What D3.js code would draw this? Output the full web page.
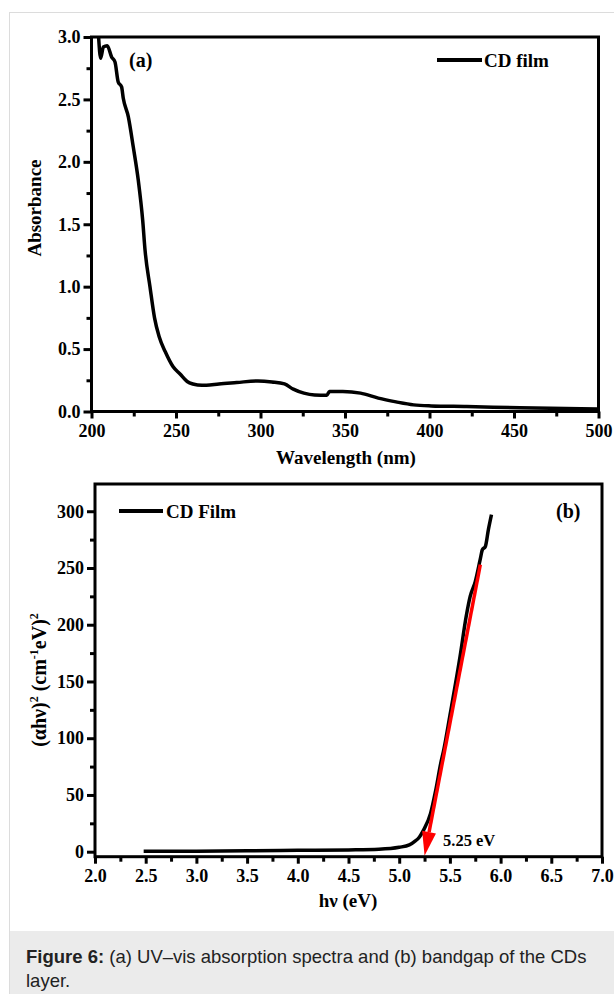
<!DOCTYPE html>
<html>
<head>
<meta charset="utf-8">
<script src="https://cdn.jsdelivr.net/npm/d3@7/dist/d3.min.js"></script>
<style>
  html, body { margin: 0; padding: 0; background: #fff; }
  svg { display: block; }
  .serif { font-family: "Liberation Serif", "Times New Roman", serif; font-weight: bold; }
  .cap { font-family: "Liberation Sans", Arial, Helvetica, sans-serif; fill: #222; }
</style>
</head>
<body>
<svg id="fig" width="614" height="994"></svg>
<script>
// (a) UV–vis absorption spectrum of the CD film
const wavelength = [204.2, 205.4, 207.0, 209.3, 211.9, 213.9, 215.8, 217.8, 218.8, 221.8, 224.7, 227.7,
  230.3, 231.7, 234.6, 237.3, 240.0, 243.6, 248.2, 252.4, 256.6, 260.0, 262.8, 268.0, 275.4, 285.9,
  298.5, 306.8, 314.2, 319.4, 325.7, 332.0, 339.3, 340.8, 348.7, 359.2, 369.7, 380.2, 390.6, 401.0,
  422.0, 453.5, 499.6];
const absorbance = [3.0, 2.83, 2.92, 2.93, 2.84, 2.80, 2.64, 2.60, 2.51, 2.36, 2.12, 1.85,
  1.53, 1.29, 1.00, 0.75, 0.60, 0.48, 0.36, 0.30, 0.24, 0.22, 0.213, 0.21, 0.221, 0.232,
  0.245, 0.237, 0.221, 0.179, 0.147, 0.133, 0.131, 0.16, 0.16, 0.147, 0.107, 0.077, 0.053, 0.045,
  0.04, 0.03, 0.021];
const aXTicks = [200, 250, 300, 350, 400, 450, 500];
const aYTicks = [0.0, 0.5, 1.0, 1.5, 2.0, 2.5, 3.0];

// (b) Tauc plot, (αhν)^2 against photon energy
const energy = [2.48, 3.0, 3.5, 4.0, 4.5, 4.8, 5.0, 5.1, 5.15, 5.2, 5.24, 5.31, 5.36, 5.41, 5.44,
  5.5, 5.6, 5.66, 5.70, 5.75, 5.80, 5.82, 5.85, 5.88, 5.91];
const tauc = [0.3, 0.5, 0.8, 1.2, 1.6, 2.2, 3.9, 6, 8.8, 13, 19, 34, 54, 78, 90,
  120, 172, 207, 225, 238, 258, 266, 269, 284, 297];
const bXTicks = [2.0, 2.5, 3.0, 3.5, 4.0, 4.5, 5.0, 5.5, 6.0, 6.5, 7.0];
const bYTicks = [0, 50, 100, 150, 200, 250, 300];
// linear fit extrapolated to the energy axis
const fitStart = [5.80, 253];
const bandgap = 5.25;

const svg = d3.select("#fig");

// page frame and caption band
svg.append("line").attr("x1", 9.5).attr("x2", 9.5).attr("y1", 12).attr("y2", 994)
  .attr("stroke", "#dcdcdc").attr("stroke-width", 1);
svg.append("line").attr("x1", 9).attr("x2", 614).attr("y1", 12.5).attr("y2", 12.5)
  .attr("stroke", "#dcdcdc").attr("stroke-width", 1);
svg.append("rect").attr("x", 10).attr("y", 931).attr("width", 604).attr("height", 63)
  .attr("fill", "#ebebeb");
const cap = svg.append("text").attr("class", "cap").attr("x", 26).attr("y", 963)
  .attr("font-size", 18.5);
cap.append("tspan").attr("font-weight", "bold").text("Figure 6:");
cap.append("tspan").text(" (a) UV–vis absorption spectra and (b) bandgap of the CDs");
svg.append("text").attr("class", "cap").attr("x", 26).attr("y", 987).attr("font-size", 18.5)
  .text("layer.");

function frame(g, x, y) {
  const [x0, x1] = x.range(), [y0, y1] = y.range();
  g.append("rect").attr("x", x0).attr("y", y1).attr("width", x1 - x0).attr("height", y0 - y1)
    .attr("fill", "none").attr("stroke", "#000").attr("stroke-width", 3);
}

function axes(g, x, y, xt, yt, xMinor, yMinor, fmtX, fmtY) {
  const [x0] = x.range(), [y0] = y.range();
  const ax = g.append("g").attr("transform", `translate(0,${y0})`)
    .call(d3.axisBottom(x).tickValues(xt).tickSize(7).tickPadding(6).tickFormat(fmtX));
  const axm = g.append("g").attr("transform", `translate(0,${y0})`)
    .call(d3.axisBottom(x).tickValues(xMinor).tickSize(5).tickFormat(""));
  const ay = g.append("g").attr("transform", `translate(${x0},0)`)
    .call(d3.axisLeft(y).tickValues(yt).tickSize(8).tickPadding(3).tickFormat(fmtY));
  const aym = g.append("g").attr("transform", `translate(${x0},0)`)
    .call(d3.axisLeft(y).tickValues(yMinor).tickSize(5).tickFormat(""));
  [ax, axm, ay, aym].forEach(a => {
    a.select(".domain").remove();
    a.selectAll(".tick line").attr("stroke", "#000").attr("stroke-width", 3);
    a.selectAll(".tick text").attr("class", "serif").attr("font-size", 18).attr("fill", "#000");
  });
}

// ---------- panel (a) ----------
const xa = d3.scaleLinear().domain([200, 500]).range([91.5, 598.5]);
const ya = d3.scaleLinear().domain([0, 3]).range([411.5, 37]);
const ga = svg.append("g");
axes(ga, xa, ya, aXTicks, aYTicks,
  d3.range(225, 500, 50), d3.range(0.25, 3, 0.5),
  d3.format("d"), d3.format(".1f"));

ga.append("path")
  .datum(wavelength.map((w, i) => [w, absorbance[i]]))
  .attr("fill", "none").attr("stroke", "#000").attr("stroke-width", 3.5)
  .attr("stroke-linejoin", "round")
  .attr("d", d3.line().x(d => xa(d[0])).y(d => ya(d[1])).curve(d3.curveMonotoneX));
frame(ga, xa, ya);

ga.append("text").attr("class", "serif").attr("font-size", 19)
  .attr("x", 346).attr("y", 464).attr("text-anchor", "middle").text("Wavelength (nm)");
ga.append("text").attr("class", "serif").attr("font-size", 19)
  .attr("transform", "translate(41,208) rotate(-90)").attr("text-anchor", "middle").text("Absorbance");
ga.append("text").attr("class", "serif").attr("font-size", 20)
  .attr("x", 129).attr("y", 67).text("(a)");
ga.append("line").attr("x1", 437).attr("x2", 482).attr("y1", 60).attr("y2", 60)
  .attr("stroke", "#000").attr("stroke-width", 4);
ga.append("text").attr("class", "serif").attr("font-size", 19)
  .attr("x", 484).attr("y", 66.5).text("CD film");

// ---------- panel (b) ----------
const xb = d3.scaleLinear().domain([2, 7]).range([95, 602]);
const yb = d3.scaleLinear().domain([-4.4, 324]).range([856.7, 484]);
const gb = svg.append("g");
axes(gb, xb, yb, bXTicks, bYTicks,
  d3.range(2.25, 7, 0.5), d3.range(25, 324, 50),
  d3.format(".1f"), d3.format("d"));

gb.append("path")
  .datum(energy.map((e, i) => [e, tauc[i]]))
  .attr("fill", "none").attr("stroke", "#000").attr("stroke-width", 3.5)
  .attr("stroke-linejoin", "round")
  .attr("d", d3.line().x(d => xb(d[0])).y(d => yb(d[1])).curve(d3.curveMonotoneX));

// red extrapolation arrow ending at the band gap energy
const sx = xb(fitStart[0]), sy = yb(fitStart[1]);
const tx = xb(bandgap), ty = yb(-3.5);
const len = Math.hypot(tx - sx, ty - sy);
const ux = (tx - sx) / len, uy = (ty - sy) / len;
const headLen = 24, headHalf = 7;
const bx = tx - ux * headLen, by = ty - uy * headLen;
gb.append("line").attr("x1", sx).attr("y1", sy).attr("x2", bx).attr("y2", by)
  .attr("stroke", "#ff0000").attr("stroke-width", 3.5);
gb.append("path")
  .attr("d", `M${tx},${ty}L${bx - uy * headHalf},${by + ux * headHalf}L${bx + uy * headHalf},${by - ux * headHalf}Z`)
  .attr("fill", "#ff0000");
frame(gb, xb, yb);

gb.append("text").attr("class", "serif").attr("font-size", 16.5)
  .attr("x", 443).attr("y", 846).text(`${bandgap.toFixed(2)} eV`);
gb.append("text").attr("class", "serif").attr("font-size", 19)
  .attr("x", 348).attr("y", 907).attr("text-anchor", "middle").text("hν (eV)");
const yl = gb.append("text").attr("class", "serif").attr("font-size", 20)
  .attr("transform", "translate(46,680) rotate(-90)").attr("text-anchor", "middle");
yl.append("tspan").text("(αhν)");
yl.append("tspan").attr("font-size", 12).attr("dy", -8).text("2");
yl.append("tspan").attr("dy", 8).text(" (cm");
yl.append("tspan").attr("font-size", 12).attr("dy", -8).text("-1");
yl.append("tspan").attr("dy", 8).text("eV)");
yl.append("tspan").attr("font-size", 12).attr("dy", -8).text("2");
gb.append("line").attr("x1", 119).attr("x2", 163).attr("y1", 511).attr("y2", 511)
  .attr("stroke", "#000").attr("stroke-width", 4);
gb.append("text").attr("class", "serif").attr("font-size", 19)
  .attr("x", 166).attr("y", 517.5).text("CD Film");
gb.append("text").attr("class", "serif").attr("font-size", 20)
  .attr("x", 556).attr("y", 518).text("(b)");
</script>
</body>
</html>
